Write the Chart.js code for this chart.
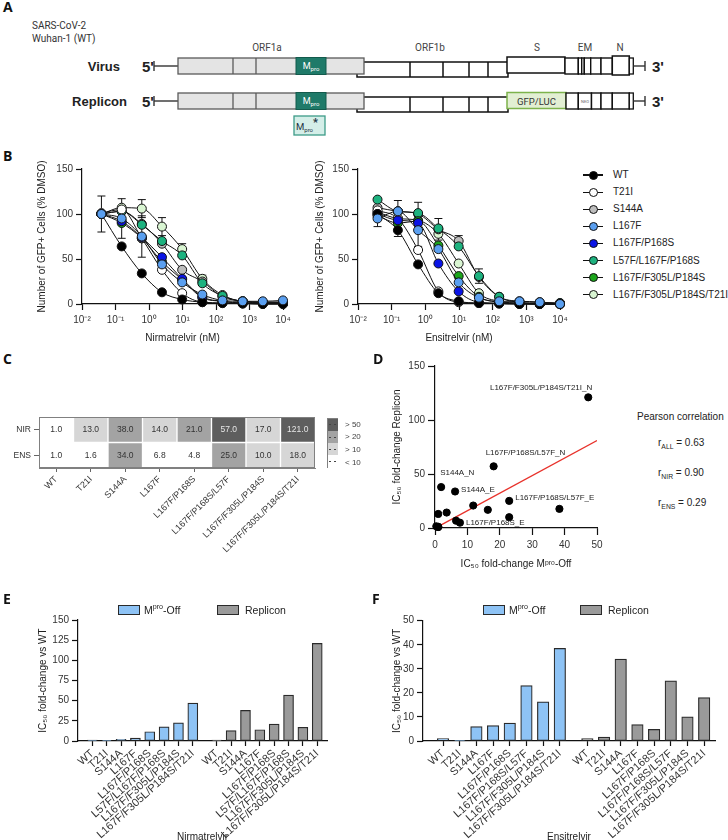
<!DOCTYPE html>
<html>
<head>
<meta charset="utf-8">
<script src="https://cdn.jsdelivr.net/npm/chart.js@4.4.1/dist/chart.umd.min.js"></script>
<style>
html,body{margin:0;padding:0;background:#fff;}
#fig{position:relative;width:728px;height:840px;overflow:hidden;font-family:"Liberation Sans",Arial,sans-serif;color:#222;}
#fig canvas{position:absolute;}
sub,sup{font-size:68%;line-height:0;}
</style>
</head>
<body>
<div id="fig">
  <canvas id="cB1" width="270" height="190" style="left:30px;top:160px"></canvas>
  <canvas id="cB2" width="270" height="190" style="left:308px;top:160px"></canvas>
  <canvas id="cC" width="330" height="160" style="left:0px;top:400px"></canvas>
  <canvas id="cD" width="240" height="220" style="left:380px;top:356px"></canvas>
  <canvas id="cE" width="360" height="250" style="left:0px;top:598px"></canvas>
  <canvas id="cF" width="358" height="250" style="left:370px;top:598px"></canvas>
</div>
<script>
// ---------------- DATA ----------------
const variants = ['WT','T21I','S144A','L167F','L167F/P168S','L57F/L167F/P168S','L167F/F305L/P184S','L167F/F305L/P184S/T21I'];
const doses = [0.038, 0.153, 0.61, 2.44, 9.77, 39.1, 156, 625, 2500, 10000];
const logTicks = [0.01, 0.1, 1, 10, 100, 1000, 10000];
const logTickLabels = ['10⁻²','10⁻¹','10⁰','10¹','10²','10³','10⁴'];

// Panel B – Nirmatrelvir (% DMSO)
const nirWT     = [100, 64, 34, 13, 5, 2, 1, 0.5, 0, 0];
const nirT21I   = [101, 105, 73, 38, 12, 2, 1, 0.5, 0.5, 0.5];
const nirS144A  = [100, 103, 89, 67, 38, 25, 8, 3, 1, 1];
const nirL167F  = [100, 95, 75, 44, 24, 10.5, 4, 3, 3, 4];
const nirP168S  = [100, 92, 74, 52, 28, 8, 3, 1, 1, 1];
const nirL57F   = [100, 103, 88, 70, 54, 23, 9, 3, 2, 2];
const nirF305L  = [100, 90, 73, 47, 27, 7, 3, 1, 0, 0];
const nirQuad   = [100, 107, 106, 86, 61, 28, 10, 3, 2, 2];
// error bars (SD) – 0 where no visible bar
const nirErrWT    = [20, 0, 0, 0, 0, 0, 0, 0, 0, 0];
const nirErrL167F = [0, 22, 23, 0, 0, 0, 0, 0, 0, 0];
const nirErrQuad  = [0, 0, 10, 10, 6, 4, 0, 0, 0, 0];

// Panel B – Ensitrelvir (% DMSO)
const ensWT     = [100, 82, 44, 12, 3, 1, 0.5, 0, 0, 0];
const ensT21I   = [104, 95, 60, 14, 2, 1, 0.5, 0, 0, 0];
const ensS144A  = [107, 103, 100, 83, 70, 30, 8, 3, 2, 1];
const ensL167F  = [95, 103, 82, 61, 24, 7, 3, 3, 2, 0];
const ensP168S  = [100, 93, 90, 45, 14, 2, 1, 0.5, 0, 0];
const ensL57F   = [116, 103, 101, 84, 64, 31, 8, 2, 1, 1];
const ensF305L  = [98, 90, 92, 65, 31, 8, 2, 1, 0, 0];
const ensQuad   = [102, 95, 93, 78, 45, 12, 3, 1, 0, 0];
const ensErrT21I  = [0, 20, 0, 0, 0, 0, 0, 0, 0, 0];
const ensErrL167F = [9, 0, 18, 0, 0, 0, 0, 0, 0, 0];
const ensErrS144A = [0, 0, 0, 12, 6, 0, 0, 0, 0, 0];
const ensErrL57F  = [0, 0, 12, 0, 0, 8, 0, 0, 0, 0];

// Panel C – heatmap
const heatCols = ['WT','T21I','S144A','L167F','L167F/P168S','L167F/P168S/L57F','L167F/F305L/P184S','L167F/F305L/P184S/T21I'];
const heatRows = ['NIR','ENS'];
const heatNIR = [1.0, 13.0, 38.0, 14.0, 21.0, 57.0, 17.0, 121.0];
const heatENS = [1.0, 1.6, 34.0, 6.8, 4.8, 25.0, 10.0, 18.0];
const heatLegendLabels = ['> 50','> 20','> 10','< 10'];

// Panel D – scatter (x: Mpro-Off fold change, y: Replicon fold change)
const scatterX = [1, 1, 1.9, 3.6, 11.8, 18.1, 16.3, 47.3, 1, 0.4, 6.2, 6.5, 7.7, 22.9, 22.9, 38.4];
const scatterY = [1, 13, 37.9, 14.3, 20.8, 57.1, 16.8, 121, 1, 1.6, 33.8, 6.8, 4.9, 25.1, 10, 17.7];
const scatterNames = ['', '', 'S144A_N', '', '', 'L167F/P168S/L57F_N', '', 'L167F/F305L/P184S/T21I_N', '', '', 'S144A_E', '', 'L167F/P168S_E', 'L167F/P168S/L57F_E', '', ''];
const regX = [0.5, 50];
const regY = [0.6, 81];

// Panels E, F – bars
const barLabelsNir = ['WT','T21I','S144A','L167F','L167F/P168S','L57F/L167F/P168S','L167F/F305L/P184S','L167F/F305L/P184S/T21I'];
const barLabelsEns = ['WT','T21I','S144A','L167F','L167F/P168S','L167F/P168S/L57F','L167F/F305L/P184S','L167F/F305L/P184S/T21I'];
const nirMproOff  = [1, 0.5, 2, 3.5, 11.5, 17.5, 22.5, 47];
const nirReplicon = [1, 13, 38, 14, 21, 57, 17, 121];
const ensMproOff  = [1, 0.3, 6, 6.4, 7.4, 23, 16.3, 38.5];
const ensReplicon = [1, 1.6, 34, 6.8, 4.8, 25, 10, 18];

// ---------------- STYLE ----------------
const variantColors = ['#000000','#ffffff','#bdbdbd','#5a9ff0','#0a14e6','#1db27f','#1ba51b','#d9f5d2'];
const drawOrder = [1, 3, 6, 0, 2, 5, 4, 7];
const FONT = '"Liberation Sans", Arial, sans-serif';
Chart.defaults.font.family = FONT;
Chart.defaults.font.size = 10;
Chart.defaults.color = '#222';
Chart.defaults.animation = false;
Chart.defaults.plugins.legend.display = false;
Chart.defaults.plugins.tooltip.enabled = false;

const fig = document.getElementById('fig');
function el(css, html){ const d=document.createElement('div'); d.style.cssText=css; if(html!=null) d.innerHTML=html; fig.appendChild(d); return d; }
function box(x,y,w,h,css,html){ return el(`position:absolute;left:${x}px;top:${y}px;width:${w}px;height:${h}px;box-sizing:border-box;${css||''}`,html); }
function text(x,y,html,css,anchor){
  const tx = anchor==='c'?'-50%':anchor==='r'?'-100%':'0';
  return el(`position:absolute;left:${x}px;top:${y}px;transform:translate(${tx},-50%);white-space:nowrap;line-height:1.15;${css||''}`,html);
}

// ---------------- PANEL A (schematic) ----------------
(function(){
  let s = `<svg width="728" height="150" style="position:absolute;left:0;top:0" font-family="Roboto, 'Liberation Sans', sans-serif">`;
  s += `<text x="32" y="29" font-size="10" fill="#333">SARS-CoV-2</text>`;
  s += `<text x="32" y="42" font-size="10" fill="#333">Wuhan-1 (WT)</text>`;
  [['ORF1a',267],['ORF1b',430],['S',537],['EM',585],['N',620]].forEach(([t,x])=>{
    s += `<text x="${x}" y="51" font-size="10" fill="#444" text-anchor="middle">${t}</text>`;
  });
  function row(y, rep, name){
    let r='';
    r += `<text x="${rep?127:120}" y="${y+13}" font-size="13" font-weight="bold" fill="#222" text-anchor="end" font-family="'Liberation Sans',Arial,sans-serif">${name}</text>`;
    r += `<text x="142" y="${y+13.5}" font-size="15" font-weight="bold" fill="#222" font-family="'Liberation Sans',Arial,sans-serif">5'</text>`;
    r += `<line x1="154" y1="${y+8}" x2="178" y2="${y+8}" stroke="#333" stroke-width="1.4"/>`;
    r += `<line x1="154" y1="${y+3}" x2="154" y2="${y+13}" stroke="#333" stroke-width="1.4"/>`;
    r += `<rect x="357" y="${y+4}" width="151" height="15" fill="#fff" stroke="#111" stroke-width="1.5"/>`;
    [410,443,469,488].forEach(x=> r += `<line x1="${x}" y1="${y+4}" x2="${x}" y2="${y+19}" stroke="#111" stroke-width="1.5"/>`);
    r += `<rect x="178" y="${y}" width="186" height="16" fill="#e4e4e4" stroke="#5a5a5a" stroke-width="1.3"/>`;
    [233,256].forEach(x=> r += `<line x1="${x}" y1="${y}" x2="${x}" y2="${y+16}" stroke="#5a5a5a" stroke-width="1.3"/>`);
    r += `<rect x="296" y="${y-0.5}" width="30" height="17" fill="#1f7a69" stroke="#135a4c" stroke-width="1"/>`;
    r += `<text x="311" y="${y+11}" text-anchor="middle" fill="#fff" font-size="9">M<tspan font-size="6" dy="2">pro</tspan></text>`;
    let segs;
    if(!rep){
      r += `<rect x="507" y="${y-1}" width="58" height="16" fill="#fff" stroke="#111" stroke-width="1.5"/>`;
      segs = [[565,578.3],[578.3,581.7],[581.7,584.3],[584.3,590.7],[590.7,601],[601,612.3]];
    } else {
      r += `<rect x="507" y="${y-0.5}" width="59" height="16" fill="#e2efd3" stroke="#7db34c" stroke-width="1.5"/>`;
      r += `<text x="536.5" y="${y+11.5}" text-anchor="middle" fill="#333" font-size="9.5">GFP/LUC</text>`;
      segs = [[566,578.3],[578.3,591.5],[591.5,601],[601,612.3]];
    }
    segs.forEach(([a,b])=> r += `<rect x="${a}" y="${y}" width="${b-a}" height="16" fill="#fff" stroke="#111" stroke-width="1.4"/>`);
    if(rep) r += `<text x="585" y="${y+9.5}" text-anchor="middle" fill="#666" font-size="4">NEO</text>`;
    if(!rep) r += `<rect x="612.3" y="${y-2}" width="17" height="19" fill="#fff" stroke="#111" stroke-width="1.5"/>`;
    else r += `<rect x="612.3" y="${y}" width="17" height="16" fill="#fff" stroke="#111" stroke-width="1.4"/>`;
    r += `<rect x="629.3" y="${y}" width="4" height="16" fill="#fff" stroke="#111" stroke-width="1.3"/>`;
    r += `<line x1="633.3" y1="${y+8}" x2="645" y2="${y+8}" stroke="#333" stroke-width="1.4"/>`;
    r += `<line x1="645" y1="${y+3}" x2="645" y2="${y+13}" stroke="#333" stroke-width="1.4"/>`;
    r += `<text x="652" y="${y+13.5}" font-size="15" font-weight="bold" fill="#222" font-family="'Liberation Sans',Arial,sans-serif">3'</text>`;
    return r;
  }
  s += row(58, false, 'Virus');
  s += row(93, true, 'Replicon');
  s += `<rect x="294" y="116" width="31" height="19" fill="#d4eee8" stroke="#3d9b88" stroke-width="1.3"/>`;
  s += `<text x="307" y="130" text-anchor="middle" fill="#234" font-size="9.5">M<tspan font-size="6" dy="2">pro</tspan><tspan font-size="11" dy="-6" font-weight="bold">*</tspan></text>`;
  s += `</svg>`;
  const d = document.createElement('div'); d.innerHTML = s; fig.appendChild(d.firstChild);
})();

// panel letters
[['A',3,7],['B',3,156],['C',3,359],['D',373,359],['E',3,599],['F',372,599]].forEach(([t,x,y])=>
  text(x,y,t,'font-family:"Open Sans","Liberation Sans",sans-serif;font-weight:700;font-size:14px;color:#111'));

// ---------------- helpers ----------------
function gpScale(o){
  const w = o.axisWidth || 1.2;
  const s = {
    border:{display:true,color:o.axisColor||'#111',width:w},
    grid:{display:true,drawOnChartArea:false,drawTicks:true,tickLength:o.tickLength||6,color:o.tickColor||'#111',tickWidth:w,offset:false},
    ticks:Object.assign({color:'#333',font:{size:o.fontSize||10},padding:o.pad!=null?o.pad:3}, o.ticks||{})
  };
  ['type','min','max','stacked','afterBuildTicks','offset'].forEach(k=>{ if(o[k]!==undefined) s[k]=o[k]; });
  if(o.title) s.title = {display:true,text:o.title,color:'#222',font:{size:o.titleSize||10},padding:o.titlePad||{top:4,bottom:4}};
  if(o.size!=null) s.afterFit = (sc)=>{ if(sc.isHorizontal()) sc.height=o.size; else sc.width=o.size; };
  return s;
}

const errorBarPlugin = {
  id:'errorBars',
  beforeDatasetsDraw(chart){
    const {ctx, scales} = chart;
    ctx.save(); ctx.strokeStyle='#111'; ctx.lineWidth=1;
    chart.data.datasets.forEach(ds=>{
      if(!ds.errors) return;
      ds.data.forEach((p,j)=>{
        const e = ds.errors[j]; if(!e) return;
        const px = scales.x.getPixelForValue(p.x);
        const y1 = scales.y.getPixelForValue(p.y+e), y2 = scales.y.getPixelForValue(Math.max(0,p.y-e));
        ctx.beginPath();
        ctx.moveTo(px,y1); ctx.lineTo(px,y2);
        ctx.moveTo(px-4,y1); ctx.lineTo(px+4,y1);
        ctx.moveTo(px-4,y2); ctx.lineTo(px+4,y2);
        ctx.stroke();
      });
    });
    ctx.restore();
  }
};

// ---------------- PANEL B ----------------
function doseChart(id, series, errs, xTitle, yWidth, padRight){
  const datasets = variants.map((name,k)=>({
    label:name,
    data: doses.map((d,i)=>({x:d, y:series[k][i]})),
    errors: errs[k],
    borderColor:'#111', borderWidth:1,
    backgroundColor: variantColors[k],
    pointBackgroundColor: variantColors[k], pointBorderColor:'#111', pointBorderWidth:1,
    pointRadius:4.5, cubicInterpolationMode:'monotone', clip:false, order: drawOrder[k], fill:false
  }));
  return new Chart(document.getElementById(id), {
    type:'line', data:{datasets},
    options:{responsive:false, layout:{padding:{top:9,right:padRight,left:0,bottom:0}},
      scales:{
        x: gpScale({type:'logarithmic',min:0.01,max:10000,size:46,title:xTitle,titlePad:{top:0,bottom:6},pad:4,
          afterBuildTicks:(s)=>{ s.ticks = logTicks.map(v=>({value:v})); },
          ticks:{callback:(v)=>logTickLabels[Math.round(Math.log10(v))+2], autoSkip:false, maxRotation:0}}),
        y: gpScale({min:0,max:150,size:yWidth,title:'Number of GFP+ Cells (% DMSO)',titlePad:{top:6,bottom:0},ticks:{stepSize:50}})
      }},
    plugins:[errorBarPlugin]
  });
}
doseChart('cB1', [nirWT,nirT21I,nirS144A,nirL167F,nirP168S,nirL57F,nirF305L,nirQuad],
  [nirErrWT,null,null,nirErrL167F,null,null,null,nirErrQuad], 'Nirmatrelvir (nM)', 52, 17);
doseChart('cB2', [ensWT,ensT21I,ensS144A,ensL167F,ensP168S,ensL57F,ensF305L,ensQuad],
  [null,ensErrT21I,ensErrS144A,ensErrL167F,null,ensErrL57F,null,null], 'Ensitrelvir (nM)', 50, 18);

// legend B
variants.forEach((name,k)=>{
  const cy = 175 + k*17.1;
  box(583, cy-0.6, 20, 1.2, 'background:#111');
  box(588.5, cy-4.5, 9, 9, `background:${variantColors[k]};border:1px solid #111;border-radius:50%`);
  text(613, cy, name, 'font-size:10px;color:#222');
});

// ---------------- PANEL C (heatmap) ----------------
function heatColor(v){ return v>=50?'#5e5e5e':v>=20?'#a3a3a3':v>=10?'#d6d6d6':'#ffffff'; }
const heatPlugin = {
  id:'heatText',
  afterDatasetsDraw(chart){
    const {ctx, chartArea:a} = chart;
    ctx.save();
    ctx.font = '8.5px '+FONT; ctx.textAlign='center'; ctx.textBaseline='middle';
    chart.data.datasets.forEach((ds,di)=>{
      chart.getDatasetMeta(di).data.forEach((bar,j)=>{
        const v = ds.values[j];
        ctx.fillStyle = v>=50 ? '#e6e6e6' : '#333';
        ctx.fillText(v.toFixed(1), bar.x, (bar.y+bar.base)/2);
      });
    });
    ctx.strokeStyle='#808080'; ctx.lineWidth=1;
    ctx.strokeRect(a.left+0.5, a.top+0.5, a.width-1, a.height-1);
    ctx.restore();
  }
};
new Chart(document.getElementById('cC'), {
  type:'bar',
  data:{labels:heatCols, datasets:[
    {label:heatRows[1], data:heatENS.map(()=>1), values:heatENS, backgroundColor:heatENS.map(heatColor), borderColor:'#fff', borderWidth:1, borderSkipped:false, barPercentage:1, categoryPercentage:1},
    {label:heatRows[0], data:heatNIR.map(()=>1), values:heatNIR, backgroundColor:heatNIR.map(heatColor), borderColor:'#fff', borderWidth:1, borderSkipped:false, barPercentage:1, categoryPercentage:1}
  ]},
  options:{responsive:false, layout:{padding:{top:17,right:15,left:0,bottom:0}},
    scales:{
      x: gpScale({stacked:true,size:92,axisColor:'#808080',tickColor:'#666',axisWidth:1,tickLength:4,pad:2,
        ticks:{font:{size:9},minRotation:45,maxRotation:45,autoSkip:false}}),
      y: gpScale({stacked:true,min:0,max:2,size:39,axisColor:'#808080',tickColor:'#666',axisWidth:1,tickLength:5,pad:3,
        afterBuildTicks:(s)=>{ s.ticks=[{value:0.5},{value:1.5}]; },
        ticks:{font:{size:8.5},callback:(v)=> v>1?heatRows[0]:heatRows[1]}})
    }},
  plugins:[heatPlugin]
});
// heat legend
box(327,418,11,50,'border:1px solid #808080;background:#fff');
heatLegendLabels.forEach((t,i)=>{
  const v = [60,30,15,5][i];
  box(327.5, 418.5+i*12.3, 10, 12.3, `background:${heatColor(v)}`);
  box(328.5, 424.3+i*12.3, 2.5, 1, 'background:#444');
  box(333.5, 424.3+i*12.3, 2.5, 1, 'background:#444');
  text(345, 424.7+i*12.6, t, 'font-size:8px;color:#444');
});

// ---------------- PANEL D (scatter) ----------------
const labelOffsets = {2:{dx:-1,dy:-14,align:'left'},5:{dx:-8,dy:-14,align:'left'},7:{dx:4,dy:-10,align:'right'},
  10:{dx:6,dy:-2,align:'left'},12:{dx:6,dy:0,align:'left'},13:{dx:6,dy:-3,align:'left'}};
const scatterLabelPlugin = {
  id:'scatterLabels',
  afterDatasetsDraw(chart){
    const {ctx, scales:{x,y}} = chart;
    ctx.save(); ctx.font='8px '+FONT; ctx.fillStyle='#222'; ctx.textBaseline='middle';
    scatterNames.forEach((t,i)=>{
      if(!t) return;
      const o = labelOffsets[i];
      ctx.textAlign = o.align;
      ctx.fillText(t, x.getPixelForValue(scatterX[i])+o.dx, y.getPixelForValue(scatterY[i])+o.dy);
    });
    ctx.restore();
  }
};
new Chart(document.getElementById('cD'), {
  type:'scatter',
  data:{datasets:[
    {data:scatterX.map((x,i)=>({x, y:scatterY[i]})), backgroundColor:'#000', borderColor:'#000', pointRadius:3.6, clip:false, order:0},
    {data:regX.map((x,i)=>({x, y:regY[i]})), showLine:true, borderColor:'#e8322b', borderWidth:1.3, pointRadius:0, order:1}
  ]},
  options:{responsive:false, layout:{padding:{top:10,right:23,left:0,bottom:0}},
    scales:{
      x: gpScale({type:'linear',min:0,max:50,size:48,tickLength:7,pad:4,title:'IC₅₀ fold-change Mᵖʳᵒ-Off',titlePad:{top:0,bottom:6},ticks:{stepSize:10}}),
      y: gpScale({min:0,max:150,size:55,tickLength:7,title:'IC₅₀ fold-change Replicon',titlePad:{top:11,bottom:0},ticks:{stepSize:50}})
    }},
  plugins:[scatterLabelPlugin]
});
text(637, 417, 'Pearson correlation', 'font-size:10px;color:#222');
text(658, 443, 'r<sub>ALL</sub> = 0.63', 'font-size:10px;color:#222');
text(658, 473, 'r<sub>NIR</sub> = 0.90', 'font-size:10px;color:#222');
text(658, 503, 'r<sub>ENS</sub> = 0.29', 'font-size:10px;color:#222');

// ---------------- PANELS E, F (bars) ----------------
function foldChart(id, labels, mpro, repl, o){
  const mproPos = labels.map((_,i)=> i + 1);
  const replPos = labels.map((_,i)=> i + o.groupStart);
  const tickPos = mproPos.concat(replPos);
  const tickLab = labels.concat(labels);
  return new Chart(document.getElementById(id), {
    type:'bar',
    data:{datasets:[
      {label:'Mpro-Off', data:mpro.map((v,i)=>({x:mproPos[i], y:v})), backgroundColor:'#8ec3f5', borderColor:'#2a2a2a', borderWidth:1.2, borderSkipped:false, grouped:false, barThickness:o.bar},
      {label:'Replicon', data:repl.map((v,i)=>({x:replPos[i], y:v})), backgroundColor:'#9a9a9a', borderColor:'#2a2a2a', borderWidth:1.2, borderSkipped:false, grouped:false, barThickness:o.bar}
    ]},
    options:{responsive:false, layout:{padding:{top:o.padTop,right:o.padRight,left:0,bottom:0}},
      scales:{
        x: gpScale({type:'linear',min:o.xMin,max:o.xMax,offset:false,size:o.xSize,tickLength:5,pad:1,
          title:o.title,titlePad:{top:0,bottom:o.titleBottom},
          afterBuildTicks:(s)=>{ s.ticks = tickPos.map(v=>({value:v})); },
          ticks:{callback:(v,i)=>tickLab[i], autoSkip:false, minRotation:42, maxRotation:42, font:{size:11}}}),
        y: gpScale({min:0,max:o.yMax,size:o.yWidth,tickLength:6,title:'IC₅₀ fold-change vs WT',titlePad:{top:o.yTitlePad,bottom:0},ticks:{stepSize:o.yStep}})
      }}
  });
}
foldChart('cE', barLabelsNir, nirMproOff, nirReplicon, {groupStart:9.67, bar:10, xMin:0, xMax:17.35, padTop:22, padRight:33, xSize:107, title:'Nirmatrelvir', titleBottom:5, yMax:150, yStep:25, yWidth:78, yTitlePad:37});
foldChart('cF', barLabelsEns, ensMproOff, ensReplicon, {groupStart:9.65, bar:11.5, xMin:-0.2, xMax:17.3, padTop:22.7, padRight:13, xSize:107, title:'Ensitrelvir', titleBottom:5, yMax:50, yStep:10, yWidth:53, yTitlePad:21});

// legends E, F
function barLegend(x1, x2){
  box(x1, 604.5, 22, 10, 'background:#8ec3f5;border:1.2px solid #2a2a2a');
  text(x1+26, 609.5, 'M<sup>pro</sup>-Off', 'font-size:10.5px;color:#222');
  box(x2, 604.5, 22, 10, 'background:#9a9a9a;border:1.2px solid #2a2a2a');
  text(x2+28, 609.5, 'Replicon', 'font-size:10.5px;color:#222');
}
barLegend(118, 217);
barLegend(483, 580);
</script>
</body>
</html>
